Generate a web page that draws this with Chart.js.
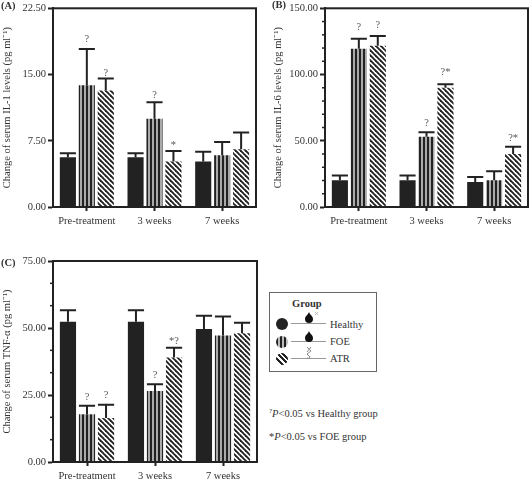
<!DOCTYPE html>
<html><head><meta charset="utf-8">
<script src="https://cdn.jsdelivr.net/npm/chart.js@4"></script>
<style>
html,body{margin:0;padding:0;background:#fff;overflow:hidden}
body{width:531px;height:479px;position:relative;font-family:"Liberation Serif",serif;color:#333}
canvas{position:absolute}
.t{position:absolute;font-size:10.5px;line-height:12px;white-space:nowrap}
.b{font-weight:bold}
#box{position:absolute;left:269px;top:292px;width:106px;height:78px;border:1px solid #666}
.dot{position:absolute;width:12px;height:12px;border-radius:50%;left:276px}
.ln{position:absolute;left:291px;width:35px;height:1px;background:#999}
sup{font-size:7px;line-height:0}
</style></head><body>
<canvas id="a" width="265" height="235" style="left:0;top:0"></canvas>
<canvas id="b" width="266" height="235" style="left:265px;top:0"></canvas>
<canvas id="c" width="265" height="234" style="left:0;top:245px"></canvas>
<div class="t b" style="left:1px;top:0">(A)</div>
<div class="t b" style="left:272px;top:-1px">(B)</div>
<div class="t b" style="left:1px;top:257px">(C)</div>
<div id="box"></div>
<div class="t b" style="left:292px;top:298px">Group</div>
<div class="dot" style="top:318px;background:#222"></div>
<div class="dot" style="top:336px;background:repeating-linear-gradient(90deg,#222 0 2px,#bbb 2px 4px)"></div>
<div class="dot" style="top:353px;background:repeating-linear-gradient(45deg,#222 0 2px,#fff 2px 4px)"></div>
<div class="ln" style="top:323px"></div><div class="ln" style="top:341px"></div><div class="ln" style="top:358px"></div>
<svg style="position:absolute;left:304px;top:309px" width="24" height="56" viewBox="0 0 24 56">
<path d="M5 3C6 6 9 7 9 10A4 4 0 0 1 1 10C1 7 4 6 5 3Z" fill="#111"/>
<path d="M5 22C6 25 9 26 9 29A4 4 0 0 1 1 29C1 26 4 25 5 22Z" fill="#111"/>
<path d="M11 3l3 3m0-3l-3 3" stroke="#bbb" fill="none"/>
<path d="M3 38l4 4-4 3 3 3a2 2 0 0 1-3 1M7 38l-4 5" stroke="#888" fill="none"/>
</svg>
<div class="t" style="left:330px;top:319px">Healthy</div>
<div class="t" style="left:330px;top:336px">FOE</div>
<div class="t" style="left:330px;top:353px">ATR</div>
<div class="t" style="left:269px;top:408px"><sup>?</sup><i>P</i>&lt;0.05 vs Healthy group</div>
<div class="t" style="left:269px;top:431px">*<i>P</i>&lt;0.05 vs FOE group</div>
<script>
const categories = ["Pre-treatment", "3 weeks", "7 weeks"];
const groups = ["Healthy", "FOE", "ATR"];

const il1Healthy = [5.63, 5.63, 5.15];
const il1FOE = [13.8, 10.0, 5.85];
const il1ATR = [13.2, 5.15, 6.55];
const il1HealthyErr = [6.1, 6.1, 6.25];
const il1FOEErr = [17.9, 11.85, 7.37];
const il1ATRErr = [14.55, 6.35, 8.45];
const il1Marks = [[1, 0, 19.0, "?"], [2, 0, 15.2, "?"], [1, 1, 12.6, "?"], [2, 1, 7.0, "*"]];
const il1Ticks = [0, 7.5, 15, 22.5];
const il1Minor = [];

const il6Healthy = [20.2, 20.2, 18.8];
const il6FOE = [119.5, 53, 20.2];
const il6ATR = [121.7, 90, 40];
const il6HealthyErr = [23.7, 23.7, 22.7];
const il6FOEErr = [127, 56.5, 27];
const il6ATRErr = [129, 92.6, 45.5];
const il6Marks = [[1, 0, 135.8, "?"], [2, 0, 137, "?"], [1, 1, 63.5, "?"], [2, 1, 101.7, "?*"], [2, 2, 51.8, "?*"]];
const il6Ticks = [0, 50, 100, 150];
const il6Minor = [10, 20, 30, 40, 60, 70, 80, 90, 110, 120, 130, 140];

const tnfHealthy = [52.3, 52.3, 49.6];
const tnfFOE = [17.8, 26.5, 47.2];
const tnfATR = [16.4, 39, 48];
const tnfHealthyErr = [56.6, 56.6, 54.6];
const tnfFOEErr = [21, 29, 54.3];
const tnfATRErr = [21.4, 42.6, 52];
const tnfMarks = [[1, 0, 24, "?"], [2, 0, 25, "?"], [1, 1, 32.2, "?"], [2, 1, 45, "*?"]];
const tnfTicks = [0, 25, 50, 75];
const tnfMinor = [8.33, 16.67, 33.33, 41.67, 58.33, 66.67];

const DARK = "#222";
const FONT = '"Liberation Serif", serif';

function stripes() {
  const c = document.createElement("canvas"); c.width = 4; c.height = 4;
  const x = c.getContext("2d");
  x.fillStyle = "#aaa"; x.fillRect(0, 0, 4, 4);
  x.fillStyle = DARK; x.fillRect(2, 0, 2, 4);
  return x.createPattern(c, "repeat");
}
function hatch() {
  const c = document.createElement("canvas"); c.width = 5; c.height = 5;
  const x = c.getContext("2d");
  x.fillStyle = "#fff"; x.fillRect(0, 0, 5, 5);
  x.strokeStyle = DARK; x.lineWidth = 1.9;
  for (const o of [-5, 0, 5]) { x.beginPath(); x.moveTo(o - 1, -1); x.lineTo(o + 6, 6); x.stroke(); }
  return x.createPattern(c, "repeat");
}

const decorate = {
  id: "decorate",
  afterDatasetsDraw(chart, _args, o) {
    const g = chart.ctx, a = chart.chartArea, y = chart.scales.y;
    g.save();
    g.strokeStyle = DARK;
    g.lineWidth = 2;
    o.errors.forEach((errs, di) => {
      const bars = chart.getDatasetMeta(di).data;
      errs.forEach((v, i) => {
        const b = bars[i], p = y.getPixelForValue(v), hw = b.width / 2;
        g.beginPath();
        g.moveTo(b.x, b.y); g.lineTo(b.x, p);
        g.moveTo(b.x - hw, p); g.lineTo(b.x + hw, p);
        g.stroke();
      });
    });
    g.strokeRect(a.left, a.top, a.right - a.left, a.bottom - a.top);
    g.lineWidth = 1.5;
    o.minor.forEach(v => {
      const p = y.getPixelForValue(v);
      g.beginPath(); g.moveTo(a.left - 3, p); g.lineTo(a.left, p); g.stroke();
    });
    g.fillStyle = "#555";
    g.font = "10.5px " + FONT;
    g.textAlign = "center"; g.textBaseline = "middle";
    o.marks.forEach(([di, i, v, s]) => {
      g.fillText(s, chart.getDatasetMeta(di).data[i].x, y.getPixelForValue(v));
    });
    g.restore();
  }
};

function panel(id, title, series, errors, marks, ticks, minor, box, titleX) {
  const fills = [DARK, stripes(), hatch()];
  new Chart(document.getElementById(id), {
    type: "bar",
    data: {
      labels: categories,
      datasets: series.map((d, i) => ({ label: groups[i], data: d, backgroundColor: fills[i], borderWidth: 0 }))
    },
    plugins: [decorate],
    options: {
      responsive: false, animation: false,
      layout: { padding: { top: box.top, right: box.right, left: 0, bottom: 0 } },
      datasets: { bar: { categoryPercentage: 0.84, barPercentage: 0.85 } },
      plugins: { legend: { display: false }, tooltip: { enabled: false },
        decorate: { errors, marks, minor } },
      scales: {
        x: {
          afterFit: s => { s.height = box.bottom; },
          grid: { offset: false, drawOnChartArea: false, drawTicks: true, tickLength: 4, tickWidth: 2, tickColor: DARK },
          border: { color: DARK, width: 2 },
          ticks: { color: "#333", font: { family: FONT, size: 10.5 }, padding: 4, maxRotation: 0 }
        },
        y: {
          min: ticks[0], max: ticks[ticks.length - 1],
          afterBuildTicks: s => { s.ticks = ticks.map(v => ({ value: v })); },
          afterFit: s => { s.width = box.left; },
          grid: { drawOnChartArea: false, tickLength: 5, tickWidth: 2, tickColor: DARK },
          border: { color: DARK, width: 2 },
          ticks: { color: "#333", font: { family: FONT, size: 10.5 }, padding: 2, callback: v => v.toFixed(2) },
          title: { display: true, text: title, color: "#333", font: { family: FONT, size: 10.5 }, padding: { top: titleX, bottom: 0 } }
        }
      }
    }
  });
}

panel("a", "Change of serum IL-1 levels (pg ml\u207B\u00B9)", [il1Healthy, il1FOE, il1ATR], [il1HealthyErr, il1FOEErr, il1ATRErr], il1Marks, il1Ticks, il1Minor,
  { left: 53, top: 5, right: 9, bottom: 28 }, 1);
panel("b", "Change of serum IL-6 levels (pg ml\u207B\u00B9)", [il6Healthy, il6FOE, il6ATR], [il6HealthyErr, il6FOEErr, il6ATRErr], il6Marks, il6Ticks, il6Minor,
  { left: 60, top: 5, right: 3, bottom: 28 }, 7);
panel("c", "Change of serum TNF-\u03B1 (pg ml\u207B\u00B9)", [tnfHealthy, tnfFOE, tnfATR], [tnfHealthyErr, tnfFOEErr, tnfATRErr], tnfMarks, tnfTicks, tnfMinor,
  { left: 53, top: 16, right: 8, bottom: 17 }, 1);
</script>
</body></html>
